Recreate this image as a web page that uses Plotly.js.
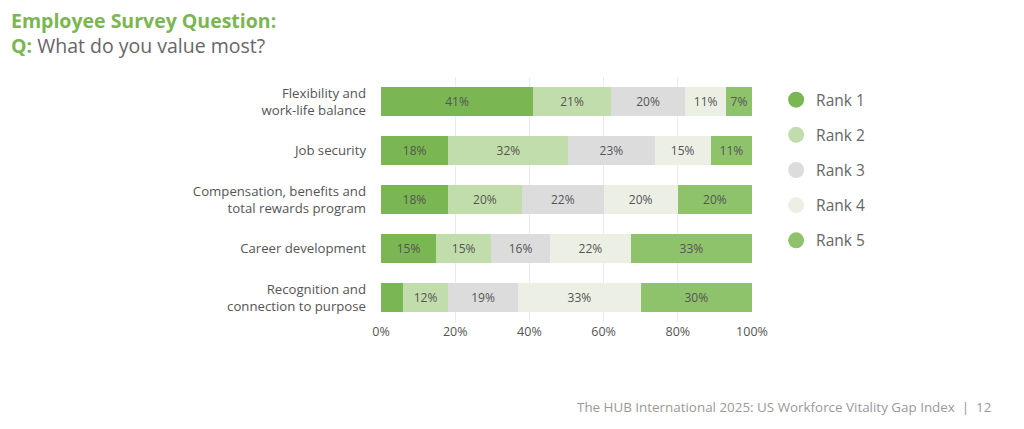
<!DOCTYPE html>
<html>
<head>
<meta charset="utf-8">
<script src="https://cdn.plot.ly/plotly-3.0.1.min.js"></script>
<style>html,body{margin:0;padding:0;background:#fff;}#chart{width:1024px;height:429px;}</style>
</head>
<body>
<div id="chart"></div>
<script>
const categories = [
  "Flexibility and<br>work-life balance",
  "Job security",
  "Compensation, benefits and<br>total rewards program",
  "Career development",
  "Recognition and<br>connection to purpose"
];
const seriesNames = ["Rank 1", "Rank 2", "Rank 3", "Rank 4", "Rank 5"];
const rank1 = [41, 18, 18, 15, 6];
const rank2 = [21, 32, 20, 15, 12];
const rank3 = [20, 23, 22, 16, 19];
const rank4 = [11, 15, 20, 22, 33];
const rank5 = [7, 11, 20, 33, 30];
const colors = ["#7ab651", "#c1ddab", "#dcdcdc", "#ecefe3", "#8ec26b"];
const xTickVals = [0, 20, 40, 60, 80, 100];
const xTickText = ["0%", "20%", "40%", "60%", "80%", "100%"];

const series = [rank1, rank2, rank3, rank4, rank5];
const FONT = "Open Sans, sans-serif";

// plot area geometry (pixels) used to place page texts outside the plot
const PL = 381, PR = 752, PT = 77, PB = 322;
const px2x = px => (px - PL) / (PR - PL);
const py2y = py => (PB - py) / (PB - PT);

const traces = [];
series.forEach((vals, i) => {
  traces.push({
    type: "bar",
    orientation: "h",
    y: categories,
    x: vals,
    name: seriesNames[i],
    marker: {color: colors[i], line: {width: 0}},
    text: vals.map(v => v >= 7 ? v + "%" : ""),
    textposition: "inside",
    insidetextanchor: "middle",
    textangle: 0,
    constraintext: "none",
    textfont: {family: FONT, size: 12, color: "#555"},
    hoverinfo: "text+name",
    showlegend: false
  });
});
// legend entries with circular markers
series.forEach((vals, i) => {
  traces.push({
    type: "scatter",
    mode: "markers",
    x: [null],
    y: [null],
    name: seriesNames[i],
    legendgroup: "g" + i,
    marker: {color: colors[i], size: 22, symbol: "circle"},
    showlegend: true
  });
});

const layout = {
  width: 1024,
  height: 429,
  barmode: "stack",
  barnorm: "percent",
  bargap: 0.4,
  paper_bgcolor: "#ffffff",
  plot_bgcolor: "rgba(0,0,0,0)",
  margin: {l: PL, r: 1024 - PR, t: PT, b: 429 - PB},
  font: {family: FONT, color: "#555"},
  xaxis: {
    range: [0, 100],
    tickvals: xTickVals,
    ticktext: xTickText,
    showgrid: true,
    gridcolor: "#ececec",
    gridwidth: 1,
    zeroline: false,
    showline: false,
    ticks: "",
    tickfont: {family: FONT, size: 12.5, color: "#555"},
    fixedrange: true
  },
  yaxis: {
    autorange: "reversed",
    ticks: "",
    showgrid: false,
    zeroline: false,
    ticklabelstandoff: 14,
    tickfont: {family: FONT, size: 13.2, color: "#555"},
    fixedrange: true
  },
  legend: {
    x: 1.065, xanchor: "left",
    y: 0.975, yanchor: "top",
    font: {family: FONT, size: 15.5, color: "#666"},
    itemsizing: "trace",
    tracegroupgap: 12,
    bgcolor: "rgba(0,0,0,0)"
  },
  annotations: [
    {
      text: "<b>Employee Survey Question:</b><br><b>Q:</b> <span style='color:#666'>What do you value most?</span>",
      xref: "paper", yref: "paper",
      x: px2x(9), y: py2y(33),
      xanchor: "left", yanchor: "middle", align: "left",
      showarrow: false,
      font: {family: FONT, size: 19.5, color: "#7ab651"}
    },
    {
      text: "The HUB International 2025: US Workforce Vitality Gap Index  |  12",
      xref: "paper", yref: "paper",
      x: px2x(993), y: py2y(407),
      xanchor: "right", yanchor: "middle",
      showarrow: false,
      font: {family: FONT, size: 13.4, color: "#999"}
    }
  ]
};

Plotly.newPlot("chart", traces, layout, {displayModeBar: false, staticPlot: true});
</script>
</body>
</html>
